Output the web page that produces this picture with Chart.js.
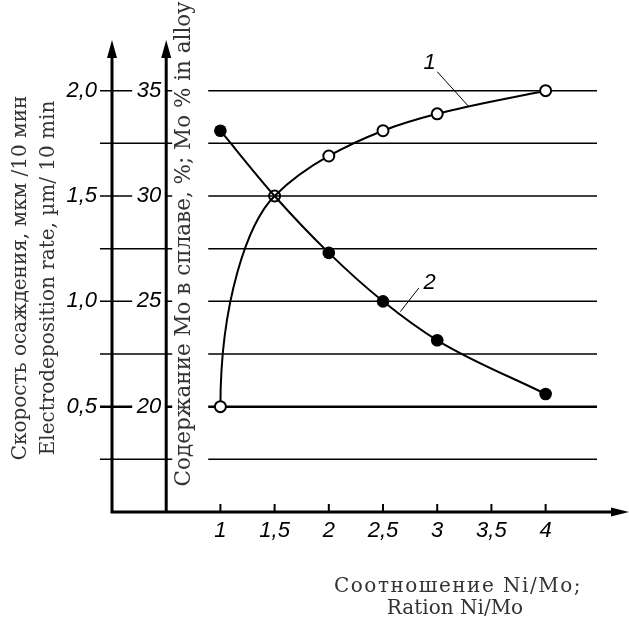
<!DOCTYPE html>
<html lang="ru">
<head>
<meta charset="UTF-8">
<title>Ni/Mo ratio</title>
<script src="https://cdn.jsdelivr.net/npm/chart.js"></script>
<style>
  html, body { margin: 0; padding: 0; background: #fff; }
  #wrap { width: 629px; height: 624px; }
</style>
</head>
<body>
<div id="wrap"><canvas id="chart" width="629" height="624"></canvas></div>
<script>
// values
const ratio = [1, 1.5, 2, 2.5, 3, 4];
const moContent = [20, 30, 31.9, 33.1, 33.9, 35];
const depositionRate = [1.81, 1.5, 1.23, 1.0, 0.815, 0.56];
const ratioTicks = [1, 1.5, 2, 2.5, 3, 3.5, 4];
const moTicks = [20, 25, 30, 35];
const rateTicks = [0.5, 1.0, 1.5, 2.0];
const moGrid = [17.5, 20, 22.5, 25, 27.5, 30, 32.5, 35];

const fmt = (v, d) => (d ? v.toFixed(d) : String(v)).replace('.', ',');
const tickFont = 'italic 22px "Liberation Sans"';
const titleFont = '20px "DejaVu Serif"';

function vText(ctx, text, x, y) {
  ctx.save();
  ctx.translate(x, y);
  ctx.rotate(-Math.PI / 2);
  ctx.textAlign = 'center';
  ctx.textBaseline = 'alphabetic';
  ctx.fillText(text, 0, 0);
  ctx.restore();
}

function arrowUp(ctx, x, yTip) {
  ctx.beginPath();
  ctx.moveTo(x, yTip);
  ctx.lineTo(x - 5, yTip + 18);
  ctx.lineTo(x + 5, yTip + 18);
  ctx.closePath();
  ctx.fill();
}

const drawing = {
  id: 'drawing',
  beforeDatasetDraw(chart, args) {
    // curve 1 leaves its first point vertically, as in the drawing
    if (args.index !== 0) return;
    const line = args.meta.dataset;
    const pts = args.meta.data;
    line.updateControlPoints(chart.chartArea, 'x');
    const p0 = pts[0], p1 = pts[1];
    const dx = p1.x - p0.x, dy = p0.y - p1.y;
    p0.cp2x = p0.x;
    p0.cp2y = p0.y - dy * 0.5;
    p1.cp1x = p1.x - dx * 0.49;
    p1.cp1y = p1.y + dy * 0.125;
    p1.cp2x = p1.x + dx * 0.33;
    p1.cp2y = p1.y - dy * 0.085;
  },
  beforeDatasetsDraw(chart) {
    const { ctx, chartArea: a, scales: { x, yMo, yRate } } = chart;
    const xo = x.getPixelForValue(0);
    const xi = x.getPixelForValue(0.5);
    const yb = a.bottom;
    ctx.save();
    ctx.strokeStyle = '#000';
    ctx.fillStyle = '#000';

    // horizontal rules
    moGrid.forEach(v => {
      const y = yMo.getPixelForValue(v);
      ctx.lineWidth = v === 20 ? 2.5 : 1.5;
      ctx.beginPath();
      ctx.moveTo(100, y);
      ctx.lineTo(597, y);
      ctx.stroke();
    });

    // gap for the inner title
    ctx.fillStyle = '#fff';
    ctx.fillRect(xi + 6, 0, 36, yb - 2);

    // tick labels on both vertical axes
    ctx.font = tickFont;
    ctx.textBaseline = 'middle';
    ctx.textAlign = 'right';
    rateTicks.forEach(v => {
      const y = yRate.getPixelForValue(v);
      ctx.fillStyle = '#fff';
      ctx.fillRect(60, y - 12, 38, 24);
      ctx.fillStyle = '#000';
      ctx.fillText(fmt(v, 1), 97, y);
    });
    moTicks.forEach(v => {
      const y = yMo.getPixelForValue(v);
      ctx.fillStyle = '#fff';
      ctx.fillRect(xi - 34, y - 12, 33, 24);
      ctx.fillStyle = '#000';
      ctx.fillText(fmt(v), xi - 5, y);
    });

    // axes
    ctx.lineWidth = 3;
    ctx.beginPath();
    ctx.moveTo(xo, 52); ctx.lineTo(xo, yb);
    ctx.moveTo(xi, 52); ctx.lineTo(xi, yb);
    ctx.moveTo(xo - 1.5, yb); ctx.lineTo(615, yb);
    ctx.stroke();
    arrowUp(ctx, xo, 40);
    arrowUp(ctx, xi, 40);
    ctx.beginPath();
    ctx.moveTo(629, yb);
    ctx.lineTo(611, yb - 4.5);
    ctx.lineTo(611, yb + 4.5);
    ctx.closePath();
    ctx.fill();

    // x ticks and labels
    ctx.lineWidth = 2;
    ctx.textAlign = 'center';
    ratioTicks.forEach(v => {
      const px = x.getPixelForValue(v);
      ctx.beginPath();
      ctx.moveTo(px, yb - 8);
      ctx.lineTo(px, yb);
      ctx.stroke();
      ctx.fillText(fmt(v), px, 531);
    });

    // axis titles
    ctx.font = titleFont;
    ctx.fillStyle = '#333';
    vText(ctx, 'Скорость осаждения, мкм /10 мин', 26, 278);
    vText(ctx, 'Electrodeposition rate, µm/ 10 min', 54, 278);
    ctx.font = '21.5px "DejaVu Serif"';
    vText(ctx, 'Содержание Mo в сплаве, %; Mo % in alloy', xi + 24, 244);
    ctx.font = titleFont;
    ctx.textAlign = 'center';
    ctx.textBaseline = 'alphabetic';
    ctx.letterSpacing = '1.5px';
    ctx.fillText('Соотношение Ni/Mo;', 458, 592);
    ctx.letterSpacing = '0px';
    ctx.fillText('Ration Ni/Mo', 455, 614);
    ctx.restore();
  },
  afterDatasetsDraw(chart) {
    const { ctx, scales: { x, yMo, yRate } } = chart;
    ctx.save();
    ctx.strokeStyle = '#000';
    ctx.fillStyle = '#000';
    ctx.lineWidth = 1;
    ctx.font = tickFont;
    ctx.textAlign = 'center';
    ctx.textBaseline = 'middle';
    // curve numbers with leaders
    ctx.fillText('1', x.getPixelForValue(2.93), yMo.getPixelForValue(36.3));
    ctx.beginPath();
    ctx.moveTo(x.getPixelForValue(3.0), yMo.getPixelForValue(35.9));
    ctx.lineTo(x.getPixelForValue(3.29), yMo.getPixelForValue(34.25));
    ctx.stroke();
    ctx.fillText('2', x.getPixelForValue(2.93), yRate.getPixelForValue(1.087));
    ctx.beginPath();
    ctx.moveTo(x.getPixelForValue(2.83), yRate.getPixelForValue(1.063));
    ctx.lineTo(x.getPixelForValue(2.66), yRate.getPixelForValue(0.951));
    ctx.stroke();
    ctx.restore();
  }
};

new Chart(document.getElementById('chart'), {
  type: 'line',
  data: {
    datasets: [
      {
        label: 'Mo % in alloy',
        data: ratio.map((r, i) => ({ x: r, y: moContent[i] })),
        yAxisID: 'yMo',
        borderColor: '#000',
        borderWidth: 2,
        cubicInterpolationMode: 'monotone',
        pointRadius: 5.5,
        pointBorderWidth: 2,
        pointBorderColor: '#000',
        pointBackgroundColor: ratio.map((r, i) => (i === 1 ? 'rgba(0,0,0,0)' : '#fff'))
      },
      {
        label: 'Electrodeposition rate',
        data: ratio.map((r, i) => ({ x: r, y: depositionRate[i] })),
        yAxisID: 'yRate',
        borderColor: '#000',
        borderWidth: 2,
        cubicInterpolationMode: 'monotone',
        pointRadius: ratio.map((r, i) => (i === 1 ? 0 : 6.3)),
        pointBorderWidth: 0,
        pointBackgroundColor: '#000'
      }
    ]
  },
  options: {
    responsive: false,
    animation: false,
    devicePixelRatio: 1,
    events: [],
    layout: { padding: { left: 112, right: 3, top: 38, bottom: 112 } },
    plugins: { legend: { display: false }, tooltip: { enabled: false } },
    scales: {
      x: { type: 'linear', min: 0, max: 4.7, display: false },
      yMo: { type: 'linear', min: 15, max: 37.5, display: false },
      yRate: { type: 'linear', min: 0, max: 2.25, display: false }
    }
  },
  plugins: [drawing]
});
</script>
</body>
</html>
